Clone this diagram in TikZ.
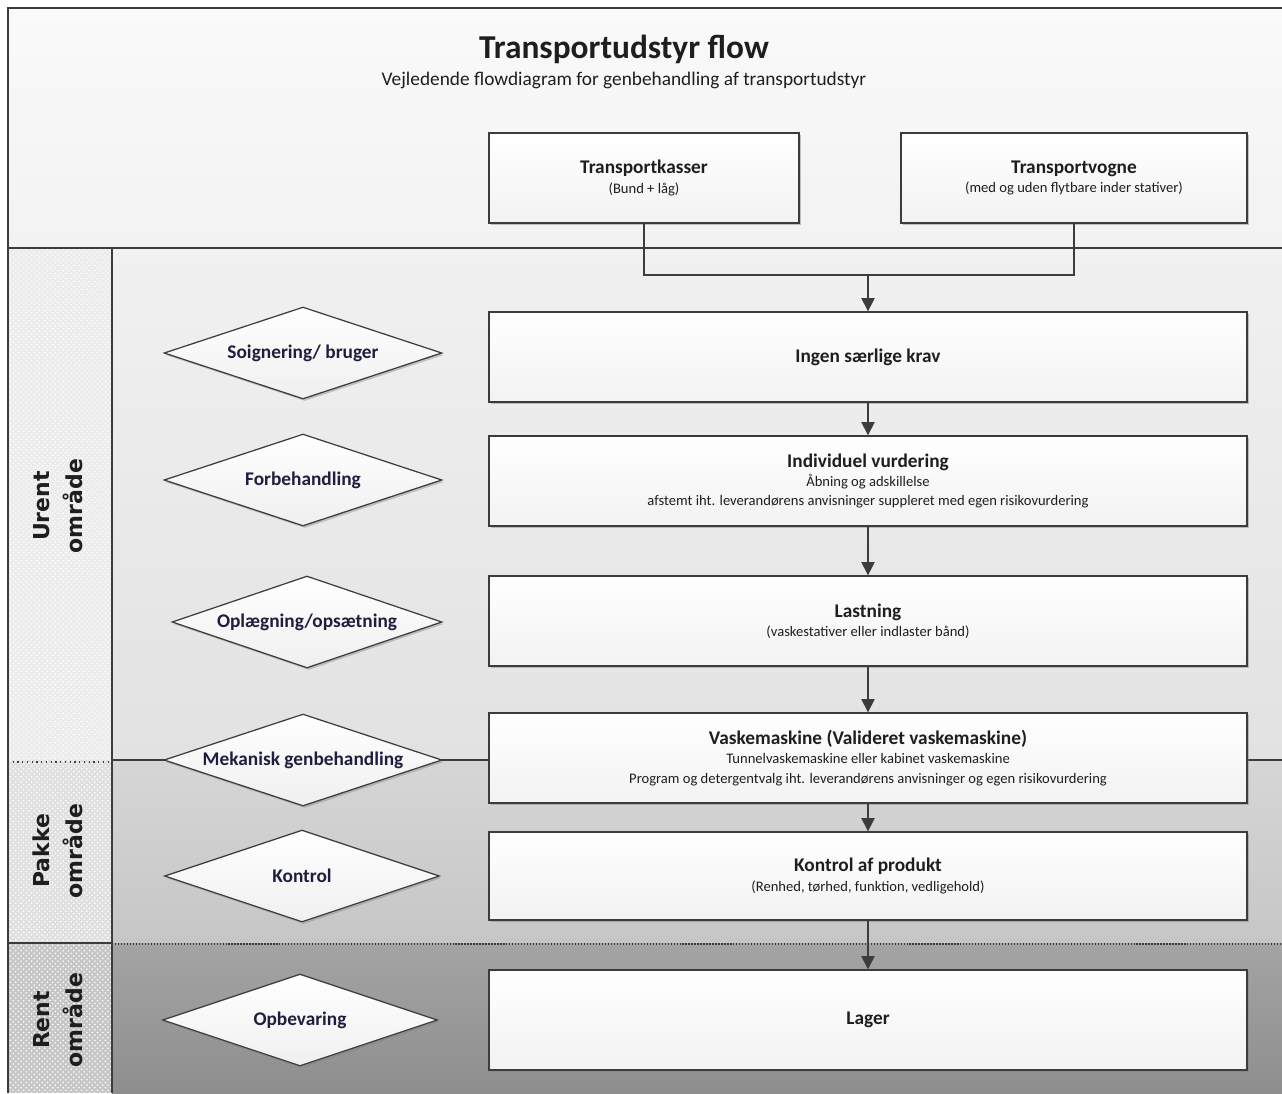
\documentclass[tikz,border=0pt]{standalone}
\usepackage{fontspec}
\setmainfont{Carlito}
\newfontfamily\lanefont{DejaVu Sans}
\usepackage{xcolor}
\definecolor{edge-grey}{RGB}{60,60,60}
\definecolor{box-ink}{RGB}{30,30,30}
\definecolor{diamond-ink}{RGB}{30,30,62}
\definecolor{head-top}{RGB}{250,250,250}
\definecolor{head-bot}{RGB}{242,242,242}
\definecolor{urent-top}{RGB}{241,241,241}
\definecolor{urent-bot}{RGB}{226,226,226}
\definecolor{pakke-top}{RGB}{214,214,214}
\definecolor{pakke-bot}{RGB}{198,198,198}
\definecolor{rent-top}{RGB}{164,164,164}
\definecolor{rent-bot}{RGB}{142,142,142}
\usepackage{tikz}
\usetikzlibrary{shapes.geometric,arrows.meta,shadows,patterns}
\newcommand*\subline[1]{\\[-2pt]{\mdseries\fontsize{8.3}{9.5}\selectfont #1}}

\tikzset{
	frame/.style={draw=edge-grey,line width=0.7pt},
	procbox/.style={draw=edge-grey,line width=0.8pt,top color=white,bottom color=white!95!black,
		minimum width=15.16cm,minimum height=1.8cm,align=center,text=box-ink,
		font=\fontsize{11}{13}\selectfont\bfseries,
		drop shadow={opacity=.45,shadow xshift=1.2pt,shadow yshift=-1.2pt}},
	decision/.style={diamond,aspect=3,inner sep=0pt,draw=edge-grey,line width=0.7pt,
		top color=white,bottom color=white!94!black,minimum width=5.56cm,minimum height=1.84cm,
		text=diamond-ink,font=\fontsize{11}{13}\selectfont\bfseries,
		drop shadow={opacity=.4,shadow xshift=1pt,shadow yshift=-1.2pt}},
	flowarrow/.style={draw=edge-grey,line width=0.8pt,-{Triangle[width=7.5pt,length=7.5pt]}},
	lanetext/.style={rotate=90,align=center,text=box-ink,
		font=\lanefont\bfseries\fontsize{12.5}{19}\selectfont}
}

\begin{document}
\begin{tikzpicture}[x=0.02cm,y=-0.02cm]
	\useasboundingbox (0,0) rectangle (1282,1093);
	\fill[white] (0,0) rectangle (1282,1093);

	% lanes
	\shade[top color=head-top,bottom color=head-bot] (8,8) rectangle (1282,248);
	\shade[top color=urent-top,bottom color=urent-bot] (112,248) rectangle (1282,760);
	\shade[top color=pakke-top,bottom color=pakke-bot] (112,760) rectangle (1282,943);
	\shade[top color=rent-top,bottom color=rent-bot] (112,943) rectangle (1282,1093);
	\fill[gray!15] (8,248) rectangle (112,760);
	\fill[gray!24] (8,760) rectangle (112,943);
	\fill[gray!45] (8,943) rectangle (112,1093);
	\fill[pattern=crosshatch dots,pattern color=white!75] (8,248) rectangle (112,1093);

	\draw[frame] (1282,8) -- (8,8) -- (8,1093);
	\draw[frame] (8,248) -- (1282,248);
	\draw[frame] (112,248) -- (112,1093);
	\draw[frame] (112,760) -- (1282,760);
	\draw[frame,dotted] (8,762) -- (112,762);
	\draw[frame] (8,943) -- (112,943);
	\draw[frame,densely dotted] (112,944) -- (1282,944);

	\node[lanetext] (urentlbl) at (58,506) {Urent\\område};
	\node[lanetext] (pakkelbl) at (58,851) {Pakke\\område};
	\node[lanetext] (rentlbl) at (58,1020) {Rent\\område};

	% title
	\node[text=box-ink,font=\fontsize{19}{22}\selectfont\bfseries] (title) at (624,49) {Transportudstyr flow};
	\node[text=box-ink,font=\fontsize{11}{13}\selectfont] (subtitle) at (624,80)
		{Vejledende flowdiagram for genbehandling af transportudstyr};

	% process boxes
	\node[procbox,minimum width=6.2cm] (kasser) at (644,178) {Transportkasser\subline{(Bund + låg)}};
	\node[procbox,minimum width=6.92cm] (vogne) at (1074,178)
		{Transportvogne\subline{(med og uden flytbare inder stativer)}};
	\node[procbox] (krav) at (868,357) {Ingen særlige krav};
	\node[procbox] (vurd) at (868,481) {Individuel vurdering\subline{Åbning og adskillelse}
		\subline{afstemt iht. leverandørens anvisninger suppleret med egen risikovurdering}};
	\node[procbox] (last) at (868,621) {Lastning\subline{(vaskestativer eller indlaster bånd)}};
	\node[procbox] (vask) at (868,758) {Vaskemaskine (Valideret vaskemaskine)
		\subline{Tunnelvaskemaskine eller kabinet vaskemaskine}
		\subline{Program og detergentvalg iht. leverandørens anvisninger og egen risikovurdering}};
	\node[procbox,minimum height=1.76cm] (kontr) at (868,876)
		{Kontrol af produkt\subline{(Renhed, tørhed, funktion, vedligehold)}};
	\node[procbox,minimum height=2cm] (lager) at (868,1020) {Lager};

	% decisions
	\node[decision] (soign) at (303,353) {Soignering/ bruger};
	\node[decision] (forb) at (303,480) {Forbehandling};
	\node[decision,minimum width=5.4cm] (opl) at (307,622) {Oplægning/opsætning};
	\node[decision] (mek) at (303,760) {Mekanisk genbehandling};
	\node[decision,minimum width=5.5cm] (kontrol) at (302,876) {Kontrol};
	\node[decision,minimum width=5.5cm] (opbev) at (300,1020) {Opbevaring};

	% connectors
	\coordinate (join) at (868,275);
	\draw[draw=edge-grey,line width=0.8pt] (kasser.south) |- (join);
	\draw[draw=edge-grey,line width=0.8pt] (vogne.south) |- (join);
	\draw[flowarrow] (join) -- (krav.north);
	\draw[flowarrow] (krav) -- (vurd);
	\draw[flowarrow] (vurd) -- (last);
	\draw[flowarrow] (last) -- (vask);
	\draw[flowarrow] (vask) -- (kontr);
	\draw[flowarrow] (kontr) -- (lager);
\end{tikzpicture}
\end{document}
